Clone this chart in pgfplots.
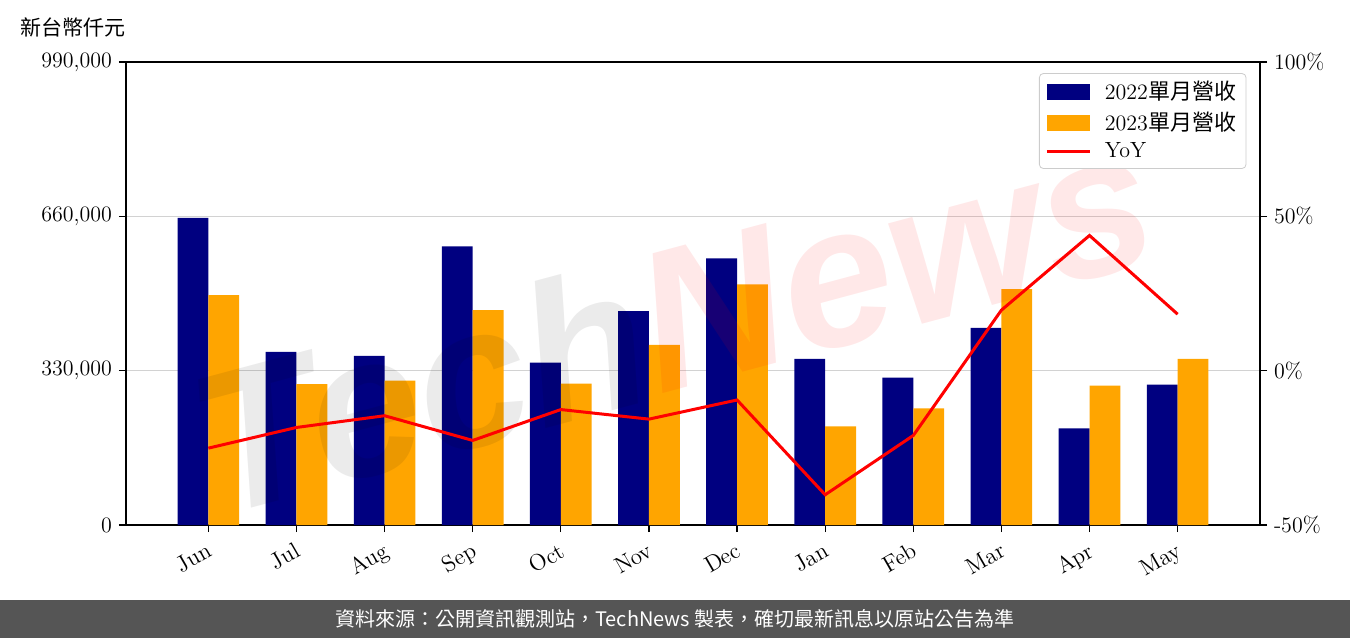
\documentclass[border=0pt]{standalone}
\usepackage{fontspec}
\usepackage{pgfplots}
\pgfplotsset{compat=1.18}
\newfontfamily\cjk{Noto Sans CJK TC}
\newfontfamily\wmfont{Liberation Sans}
\definecolor{navyc}{HTML}{000080}
\definecolor{orangec}{HTML}{FFA500}
\definecolor{footc}{HTML}{555555}
\begin{document}
\begin{tikzpicture}[x=1pt,y=1pt]
\path[use as bounding box] (-63,-56.5) rectangle (612,262.5);
\fill[footc] (-63,-56.5) rectangle (612,-37.5);
\node[white, font=\cjk\fontsize{10}{12}\selectfont] at (274.5,-47) {資料來源：公開資訊觀測站，TechNews 製表，確切最新訊息以原站公告為準};
\node[anchor=west, font=\cjk\fontsize{10.5}{12}\selectfont, inner sep=0pt] at (-53,249) {新台幣仟元};
\begin{axis}[at={(0,0)}, anchor=south west, scale only axis, width=567pt, height=231.5pt,
  xmin=-0.935, xmax=11.935, ymin=0, ymax=990000,
  xtick={0,...,11}, xticklabels={Jun,Jul,Aug,Sep,Oct,Nov,Dec,Jan,Feb,Mar,Apr,May},
  xticklabel style={rotate=30, anchor=north east, font=\fontsize{11.5}{13}\selectfont},
  ytick={0,330000,660000,990000}, yticklabels={0,{330,000},{660,000},{990,000}},
  scaled y ticks=false,
  yticklabel style={font=\fontsize{11}{13}\selectfont},
  ymajorgrids, grid style={draw=gray!35, line width=0.6pt},
  tick align=outside, xtick pos=bottom, ytick pos=left, major tick length=3.5pt,
  axis line style={line width=0.8pt}, tick style={black, line width=0.6pt},
]
\addplot[ybar, bar width=0.35, bar shift=-0.175, fill=navyc, draw=none] coordinates {
(0,657000) (1,370400) (2,361900) (3,595600) (4,347000) (5,457500) (6,570000) (7,355500) (8,315000) (9,421400) (10,206800) (11,300300)};
\addplot[ybar, bar width=0.35, bar shift=0.175, fill=orangec, draw=none] coordinates {
(0,491500) (1,301000) (2,308800) (3,459600) (4,302400) (5,385200) (6,514800) (7,211000) (8,249300) (9,504200) (10,298100) (11,355500)};
\end{axis}
\node[rotate=15, text=black, text opacity=0.08, font=\wmfont\bfseries\itshape\fontsize{100}{104}\selectfont, inner sep=0pt, anchor=east] at (258,98) {Tech};
\node[rotate=15, text=red, text opacity=0.09, font=\wmfont\bfseries\itshape\fontsize{100}{104}\selectfont, inner sep=0pt, anchor=west] at (258,98) {News};
\begin{axis}[at={(0,0)}, anchor=south west, scale only axis, width=567pt, height=231.5pt,
  xmin=-0.935, xmax=11.935, ymin=-50, ymax=100,
  axis x line=none, axis y line*=right,
  ytick={-50,0,50,100}, yticklabels={-50\%,0\%,50\%,100\%},
  yticklabel style={font=\fontsize{11}{13}\selectfont},
  tick align=outside, major tick length=3.5pt,
  axis line style={line width=0.8pt}, tick style={black, line width=0.6pt},
  legend style={at={(0.988,0.976)}, anchor=north east, draw=gray!40, rounded corners=2pt,
    font=\fontsize{11}{13}\selectfont, row sep=0.5pt, inner xsep=3pt, inner ysep=2pt},
  legend cell align=left,
]
\addlegendimage{legend image code/.code={\path[draw=none] (0pt,0pt) -- (27pt,0pt); \fill[navyc, draw=none, sharp corners] (0pt,-4pt) rectangle (21.5pt,4pt);}}
\addlegendentry{2022{\cjk 單月營收}}
\addlegendimage{legend image code/.code={\path[draw=none] (0pt,0pt) -- (27pt,0pt); \fill[orangec, draw=none, sharp corners] (0pt,-4pt) rectangle (21.5pt,4pt);}}
\addlegendentry{2023{\cjk 單月營收}}
\addplot[red, line width=1.5pt, legend image code/.code={\path[draw=none] (0pt,0pt) -- (27pt,0pt); \draw[red, line width=1.5pt, sharp corners] (0pt,0pt) -- (21.5pt,0pt);}] coordinates {
(0,-25.1) (1,-18.4) (2,-14.6) (3,-22.6) (4,-12.6) (5,-15.7) (6,-9.5) (7,-40.2) (8,-21.0) (9,19.6) (10,43.8) (11,18.3)};
\addlegendentry{YoY}
\end{axis}
\end{tikzpicture}
\end{document}
